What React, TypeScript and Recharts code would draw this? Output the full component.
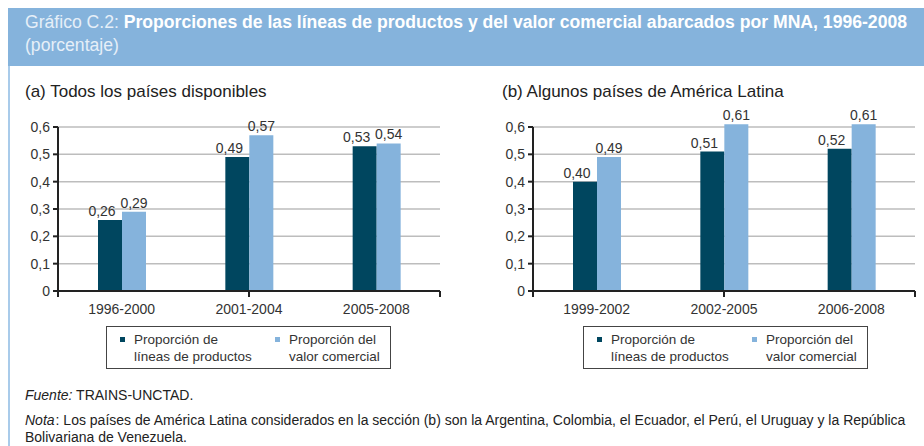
import React from 'react';
import { BarChart, Bar, XAxis, YAxis, CartesianGrid, LabelList, ReferenceLine } from 'recharts';

const seriesNames = ['Proporción de líneas de productos', 'Proporción del valor comercial'];
const legendLines = [
  ['Proporción de', 'líneas de productos'],
  ['Proporción del', 'valor comercial'],
];
const seriesColors = ['#00465f', '#85b3dc'];

const catsA = ['1996-2000', '2001-2004', '2005-2008'];
const productsA = [0.26, 0.49, 0.53];
const valueA = [0.29, 0.57, 0.54];

const catsB = ['1999-2002', '2002-2005', '2006-2008'];
const productsB = [0.40, 0.51, 0.52];
const valueB = [0.49, 0.61, 0.61];

const yTicks = [0, 0.1, 0.2, 0.3, 0.4, 0.5, 0.6];
const edgeTicks = [0, 1, 2, 3];

const titlePrefix = 'Gráfico C.2:';
const titleMain = 'Proporciones de las líneas de productos y del valor comercial abarcados por MNA, 1996-2008';
const titleSub = '(porcentaje)';
const panelTitleA = '(a) Todos los países disponibles';
const panelTitleB = '(b) Algunos países de América Latina';
const sourceLabel = 'Fuente:';
const sourceText = ' TRAINS-UNCTAD.';
const noteLabel = 'Nota';
const noteText = ': Los países de América Latina considerados en la sección (b) son la Argentina, Colombia, el Ecuador, el Perú, el Uruguay y la República Bolivariana de Venezuela.';

const FONT = '"Liberation Sans", Arial, Helvetica, sans-serif';
const TXT = '#333333';
const AXIS = '#222222';

const fmt = (v: number) => v.toFixed(2).replace('.', ',');
const fmtTick = (v: number) => (v === 0 ? '0' : v.toFixed(1).replace('.', ','));

function buildRows(cats: string[], p: number[], v: number[]) {
  return cats.map((c, i) => ({ cat: c, p: p[i], v: v[i] }));
}

type PanelProps = {
  left: number;
  width: number;
  rightMargin: number;
  cats: string[];
  p: number[];
  v: number[];
  yMax: number;
};

function Panel({ left, width, rightMargin, cats, p, v, yMax }: PanelProps) {
  const data = buildRows(cats, p, v);
  const top = 100;
  const zeroY = 291;
  const sixY = 127;
  const plotTop = zeroY - ((zeroY - sixY) * yMax) / 0.6;
  const marginTop = plotTop - top;
  const plotH = zeroY - plotTop;
  const catH = 24;
  const edgeH = 7;
  const marginBottom = 4;
  const height = marginTop + plotH + edgeH + catH + marginBottom;
  return (
    <div style={{ position: 'absolute', left, top }}>
      <BarChart
        width={width}
        height={height}
        data={data}
        margin={{ top: marginTop, right: rightMargin, bottom: marginBottom, left: 0 }}
        barGap={0}
        barSize={24}
      >
        <CartesianGrid vertical={false} xAxisId="b_cat" stroke="#bdbdbd" strokeWidth={1.5} horizontalValues={yTicks.slice(1)} />
        <XAxis
          xAxisId="b_cat"
          dataKey="cat"
          axisLine={false}
          tickLine={false}
          height={catH}
          tickMargin={0}
          tick={{ fill: TXT, fontSize: 14, fontFamily: FONT }}
        />
        <XAxis
          xAxisId="a_edge"
          type="number"
          domain={[0, 3]}
          ticks={edgeTicks}
          allowDataOverflow
          tickFormatter={() => ''}
          height={edgeH}
          tickSize={6}
          axisLine={{ stroke: AXIS, strokeWidth: 2 }}
          tickLine={{ stroke: AXIS, strokeWidth: 2 }}
        />
        <YAxis
          width={58}
          domain={[0, yMax]}
          ticks={yTicks}
          allowDataOverflow
          axisLine={false}
          tickSize={5}
          tickMargin={3}
          tickLine={{ stroke: AXIS, strokeWidth: 2 }}
          tickFormatter={fmtTick}
          tick={{ fill: TXT, fontSize: 14, fontFamily: FONT }}
        />
        <ReferenceLine
          xAxisId="a_edge"
          segment={[{ x: 0, y: 0 }, { x: 0, y: 0.6 }]}
          stroke={AXIS}
          strokeWidth={2}
        />
        <Bar xAxisId="b_cat" dataKey="p" name={seriesNames[0]} fill={seriesColors[0]} isAnimationActive={false}>
          <LabelList dataKey="p" position="top" offset={4} dx={-8} formatter={(x: any) => fmt(Number(x))} fill={TXT} fontSize={14} fontFamily={FONT} />
        </Bar>
        <Bar xAxisId="b_cat" dataKey="v" name={seriesNames[1]} fill={seriesColors[1]} isAnimationActive={false}>
          <LabelList dataKey="v" position="top" offset={4} formatter={(x: any) => fmt(Number(x))} fill={TXT} fontSize={14} fontFamily={FONT} />
        </Bar>
      </BarChart>
    </div>
  );
}

function LegendBox({ left }: { left: number }) {
  return (
    <div
      style={{
        position: 'absolute',
        left,
        top: 326,
        width: 285,
        height: 43,
        boxSizing: 'border-box',
        border: '1.5px solid #444',
        fontFamily: FONT,
        fontSize: 13.5,
        color: TXT,
      }}
    >
      {legendLines.map((lines, i) => (
        <div key={i} style={{ position: 'absolute', left: i === 0 ? 13 : 168, top: 4 }}>
          <div style={{ position: 'absolute', left: 0, top: 6, width: 5, height: 5, background: seriesColors[i] }} />
          <div style={{ position: 'absolute', left: 14, top: 0, lineHeight: '17px', whiteSpace: 'nowrap' }}>
            {lines.map((l, j) => (
              <div key={j}>{l}</div>
            ))}
          </div>
        </div>
      ))}
    </div>
  );
}

export default function App() {
  return (
    <div style={{ position: 'absolute', left: 0, top: 0, width: 924, height: 446, background: '#fff', overflow: 'hidden', fontFamily: FONT }}>
      <div style={{ position: 'absolute', left: 8, top: 8, width: 916, height: 58, background: '#85b3dc' }} />
      <div style={{ position: 'absolute', left: 8, top: 66, width: 2, height: 380, background: '#a9cbea' }} />
      <div style={{ position: 'absolute', left: 25, top: 11, fontSize: 17.6, lineHeight: '23px', color: '#fff', whiteSpace: 'nowrap' }}>
        <div>
          <span style={{ color: '#e6eff8' }}>{titlePrefix} </span>
          <span style={{ fontWeight: 'bold' }}>{titleMain}</span>
        </div>
        <div style={{ color: '#e6eff8' }}>{titleSub}</div>
      </div>
      <div style={{ position: 'absolute', left: 25, top: 82, fontSize: 17, color: '#222', whiteSpace: 'nowrap' }}>{panelTitleA}</div>
      <div style={{ position: 'absolute', left: 502, top: 82, fontSize: 17, color: '#222', whiteSpace: 'nowrap' }}>{panelTitleB}</div>
      <Panel left={0} width={460} rightMargin={20} cats={catsA} p={productsA} v={valueA} yMax={0.6} />
      <Panel left={475} width={449} rightMargin={9} cats={catsB} p={productsB} v={valueB} yMax={0.62} />
      <LegendBox left={106} />
      <LegendBox left={583} />
      <div style={{ position: 'absolute', left: 25, top: 387, fontSize: 14, color: '#222', whiteSpace: 'nowrap' }}>
        <i>{sourceLabel}</i>{sourceText}
      </div>
      <div style={{ position: 'absolute', left: 25, top: 412, width: 895, fontSize: 14, lineHeight: '17px', color: '#222' }}>
        <i style={{ marginRight: 1 }}>{noteLabel}</i>{noteText}
      </div>
    </div>
  );
}
